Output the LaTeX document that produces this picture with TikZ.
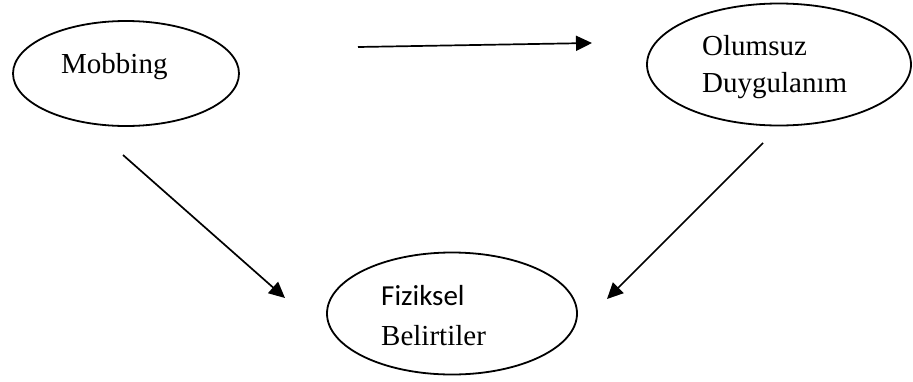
\documentclass[tikz,border=0pt]{standalone}
\usepackage{fontspec}
\setmainfont{Liberation Serif}
\newfontfamily\calibrilike{Carlito}
\usetikzlibrary{shapes.geometric,arrows.meta}
\begin{document}
\begin{tikzpicture}[x=1pt,y=-1pt,
  oval/.style={draw,ellipse,line width=1.8pt,inner sep=0pt},
  lbl/.style={anchor=base west,inner sep=0pt,font=\fontsize{29}{35}\selectfont},
  link/.style={line width=1.7pt,-{Triangle[length=16pt,width=15pt]}}]
\useasboundingbox (0,0) rectangle (913,381);
% ovals
\node[oval,minimum width=226pt,minimum height=105pt] (mob) at (126,73.5) {};
\node[oval,minimum width=264pt,minimum height=122pt] (olu) at (779,64.5) {};
\node[oval,minimum width=250pt,minimum height=122pt] (fiz) at (452,313.5) {};
% labels
\node[lbl] (tmob) at (61,73) {Mobbing};
\node[lbl] (tolu1) at (702,55) {Olumsuz};
\node[lbl] (tolu2) at (702,92) {Duygulanım};
\node[lbl,font=\fontsize{29}{35}\calibrilike] (tfiz1) at (381,305) {Fiziksel};
\node[lbl] (tfiz2) at (381,345) {Belirtiler};
% arrow end points
\coordinate (a1) at (358,47);
\coordinate (a2) at (592,43);
\coordinate (b1) at (123,155);
\coordinate (b2) at (285,298);
\coordinate (c1) at (763,143);
\coordinate (c2) at (607,299);
% arrows
\draw[link] (a1) -- (a2);
\draw[link] (b1) -- (b2);
\draw[link] (c1) -- (c2);
\end{tikzpicture}
\end{document}
